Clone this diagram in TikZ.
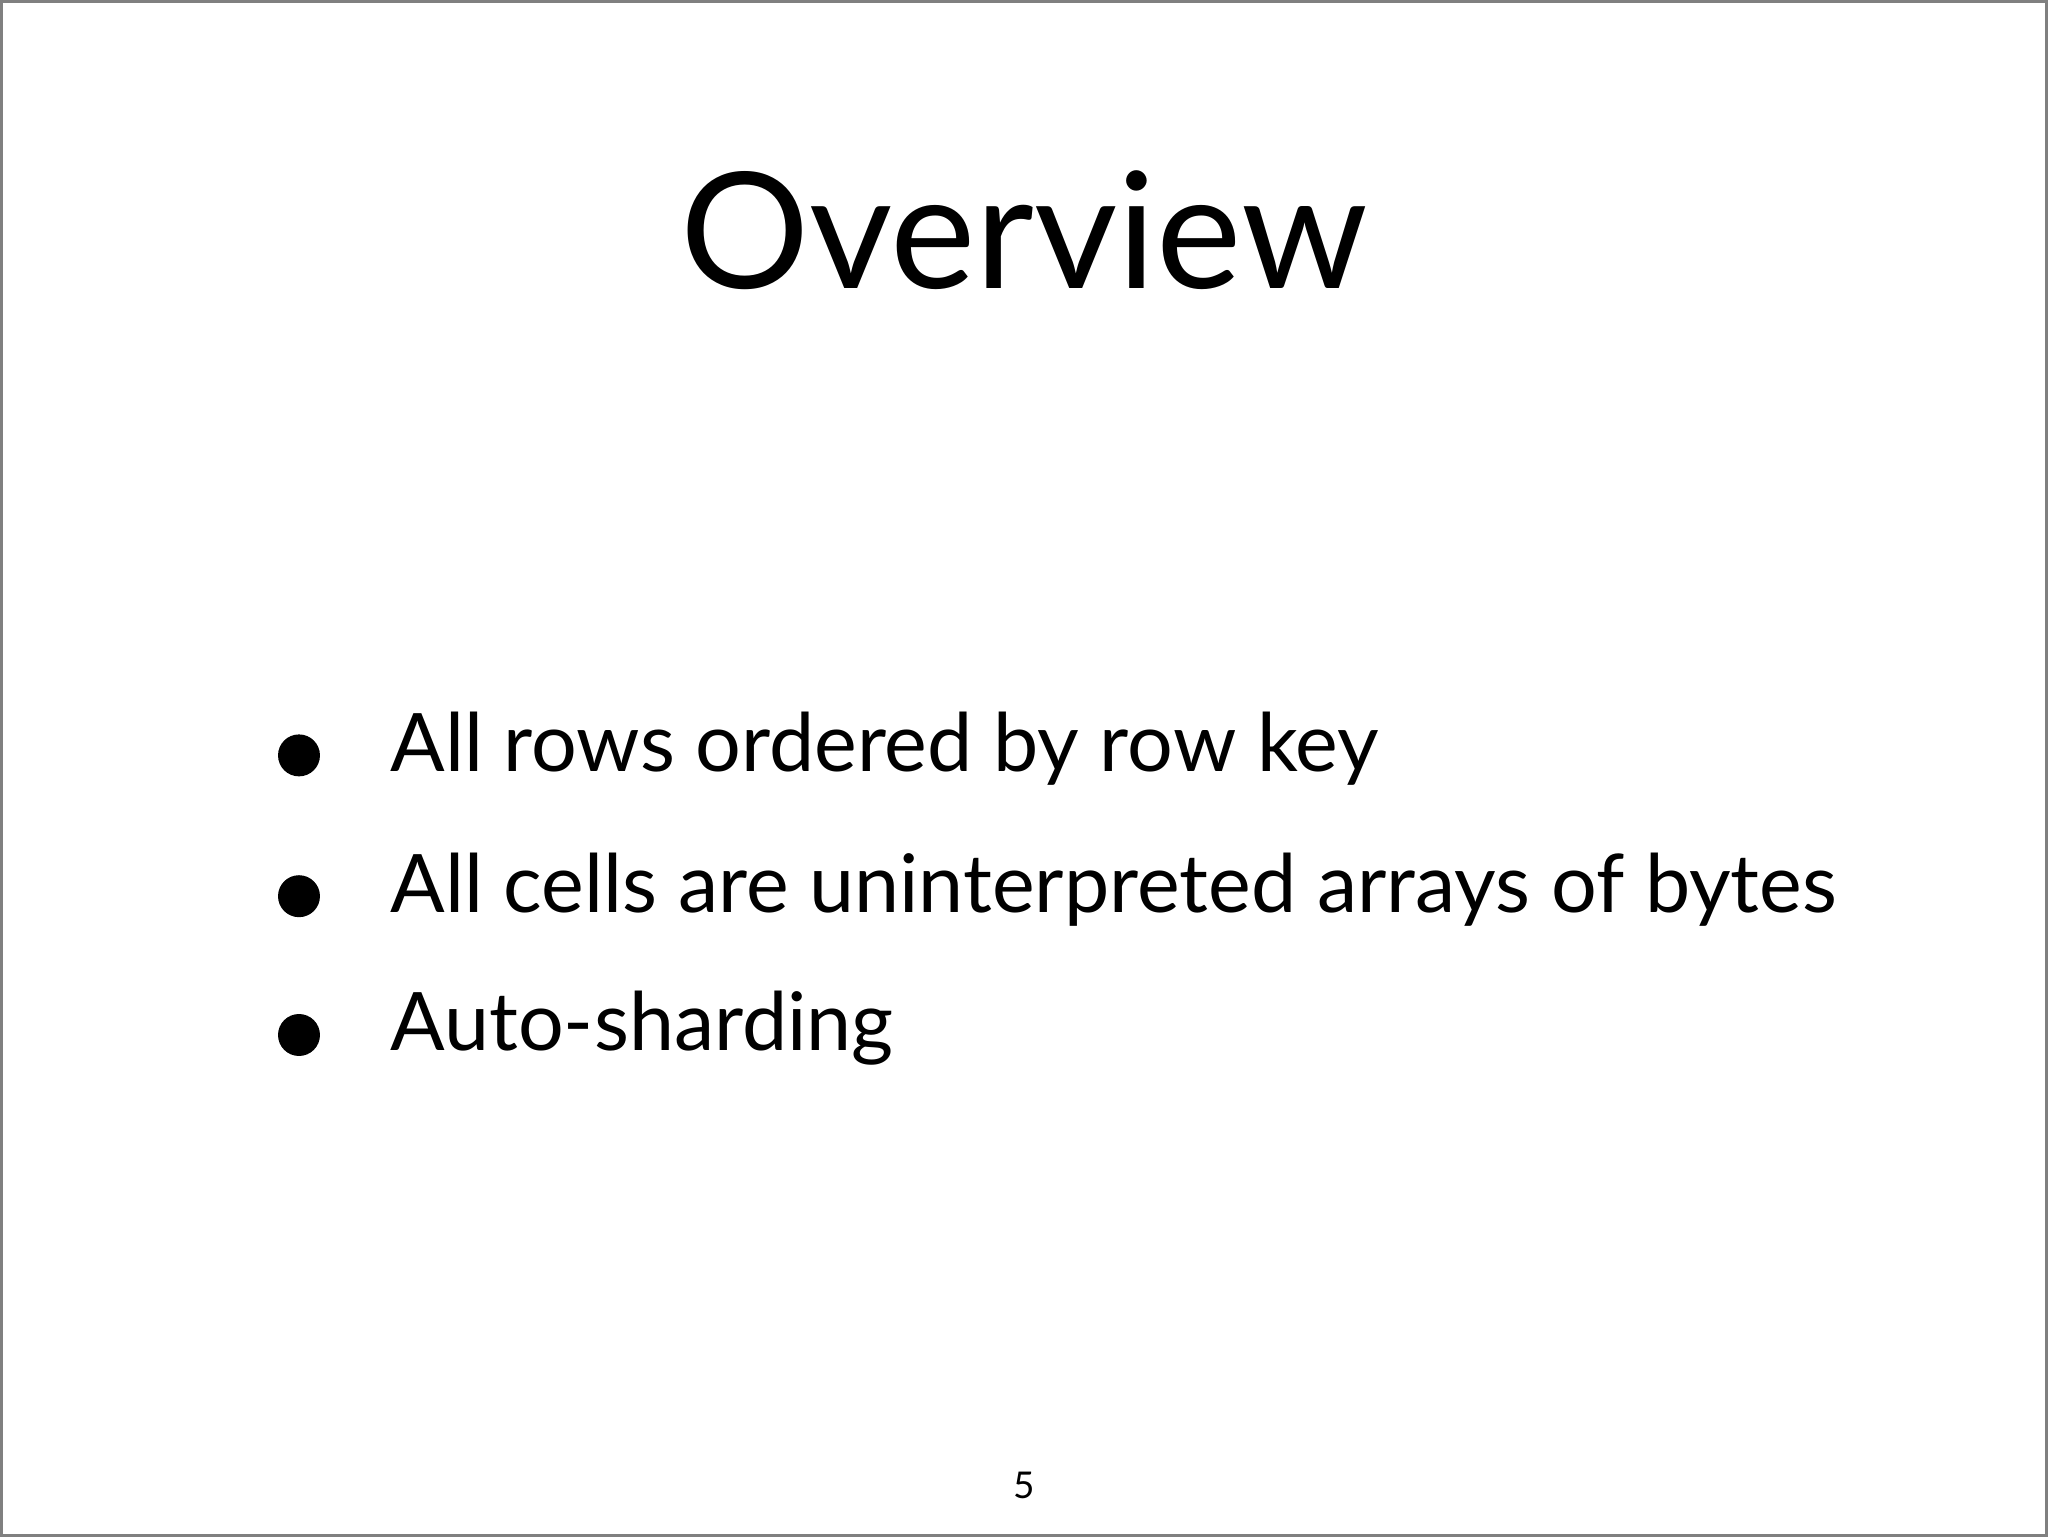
\documentclass[tikz,border=0pt]{standalone}
\usepackage{fontspec}
\setmainfont{Lato}
\begin{document}
\begin{tikzpicture}[x=0.01cm,y=-0.01cm,
  txt/.style={anchor=base west,inner sep=0,font=\fontsize{23}{28}\selectfont},
  dot/.style={circle,fill=black,inner sep=0,minimum size=0.42cm}]
\draw[gray,line width=0.8pt,fill=white] (0,0) rectangle (2048,1536);
\useasboundingbox (0,0) rectangle (2048,1536);
\node[anchor=base,inner sep=0,font=\fontsize{46}{52}\selectfont] (title) at (1024,287) {Overview};
\node[dot] (d1) at (298,755) {};
\node[dot] (d2) at (298,896) {};
\node[dot] (d3) at (298,1035) {};
\node[txt] (b1) at (389,771) {All rows ordered by row key};
\node[txt] (b2) at (389,912) {All cells are uninterpreted arrays of bytes};
\node[txt] (b3) at (389,1051) {Auto-sharding};
\node[anchor=base,inner sep=0,font=\fontsize{10.5}{12}\selectfont] (pg) at (1024,1499) {5};
\end{tikzpicture}
\end{document}
